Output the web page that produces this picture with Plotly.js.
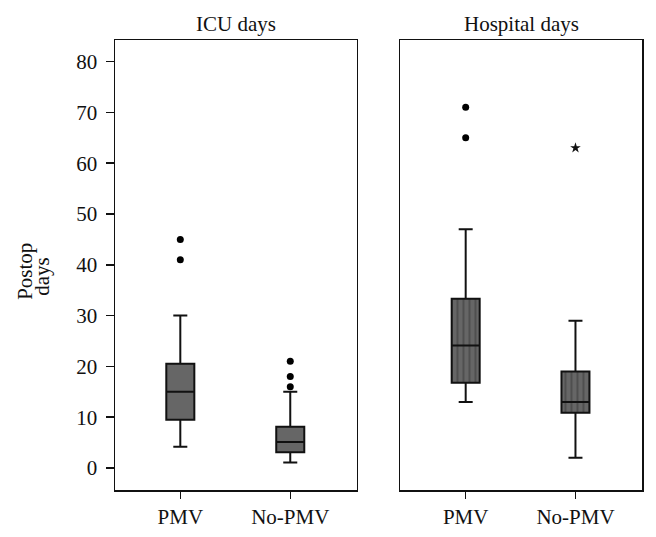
<!DOCTYPE html>
<html>
<head>
<meta charset="utf-8">
<script src="https://cdn.plot.ly/plotly-3.0.1.min.js"></script>
<style>html,body{margin:0;padding:0;background:#fff;}#chart{width:656px;height:537px;}</style>
</head>
<body>
<div id="chart"></div>
<script>
// Categories
const groups = ["PMV", "No-PMV"];
const panelTitles = ["ICU days", "Hospital days"];
const yTitleLines = ["Postop", "days"];
const yTicks = [0, 10, 20, 30, 40, 50, 60, 70, 80];

// ICU days box statistics (PMV, No-PMV)
const icuLower  = [4.2, 1.1];
const icuQ1     = [9.5, 3.1];
const icuMedian = [15, 5.1];
const icuQ3     = [20.5, 8.1];
const icuUpper  = [30, 15];
// ICU outliers
const icuOutX = ["PMV", "PMV", "No-PMV", "No-PMV", "No-PMV"];
const icuOutY = [45, 41, 21, 18, 16];

// Hospital days box statistics (PMV, No-PMV)
const hospLower  = [13, 2];
const hospQ1     = [16.8, 10.9];
const hospMedian = [24.1, 13];
const hospQ3     = [33.3, 19];
const hospUpper  = [47, 29];
// Hospital outliers and extremes
const hospOutX = ["PMV", "PMV"];
const hospOutY = [71, 65];
const hospExtX = ["No-PMV"];
const hospExtY = [63];

const lineCol = "#111111";
const fillCol = "#666666";
const boxW = 0.255;

function boxTrace(q1, med, q3, lo, hi, xa, ya, fill) {
  return {
    type: "box", x: groups, q1: q1, median: med, q3: q3,
    lowerfence: lo, upperfence: hi,
    width: boxW, whiskerwidth: 0.5,
    fillcolor: fill, line: {color: lineCol, width: 2},
    boxpoints: false, xaxis: xa, yaxis: ya, hoverinfo: "skip", showlegend: false
  };
}

const hospSpan = hospQ3.map((v, i) => v - hospQ1[i]);

const traces = [
  boxTrace(icuQ1, icuMedian, icuQ3, icuLower, icuUpper, "x", "y", fillCol),
  {
    type: "bar", x: groups, y: hospSpan, base: hospQ1, width: boxW,
    marker: {color: fillCol, line: {width: 0},
      pattern: {shape: "|", fgcolor: "#333333", bgcolor: fillCol, size: 6, solidity: 0.15}},
    xaxis: "x2", yaxis: "y2", hoverinfo: "skip", showlegend: false
  },
  boxTrace(hospQ1, hospMedian, hospQ3, hospLower, hospUpper, "x2", "y2", "rgba(0,0,0,0)"),
  {
    type: "scatter", mode: "markers", x: icuOutX, y: icuOutY,
    marker: {symbol: "circle", size: 7, color: "#000"},
    xaxis: "x", yaxis: "y", hoverinfo: "skip", showlegend: false
  },
  {
    type: "scatter", mode: "markers", x: hospOutX, y: hospOutY,
    marker: {symbol: "circle", size: 7, color: "#000"},
    xaxis: "x2", yaxis: "y2", hoverinfo: "skip", showlegend: false
  },
  {
    type: "scatter", mode: "markers", x: hospExtX, y: hospExtY,
    marker: {symbol: "star", size: 8, color: "#111"},
    xaxis: "x2", yaxis: "y2", hoverinfo: "skip", showlegend: false
  }
];

const fam = "Liberation Serif, DejaVu Serif, serif";
const font = {family: fam, size: 21, color: "#111"};
const xCommon = {
  type: "category", categoryorder: "array", categoryarray: groups,
  range: [-0.594, 1.606], showline: true, mirror: true, linecolor: lineCol, linewidth: 1.5,
  ticks: "outside", ticklen: 7, tickwidth: 1.5, tickcolor: lineCol,
  showgrid: false, zeroline: false, fixedrange: true, tickfont: font
};
const yRange = [-4.33, 84.25];

const layout = {
  width: 656, height: 537,
  margin: {l: 115, r: 14, t: 40, b: 47},
  paper_bgcolor: "#fff", plot_bgcolor: "#fff",
  font: font, showlegend: false,
  boxmode: "overlay", barmode: "overlay",
  xaxis: Object.assign({}, xCommon, {domain: [0, 0.459], anchor: "y"}),
  xaxis2: Object.assign({}, xCommon, {domain: [0.5417, 1], anchor: "y2"}),
  yaxis: {
    range: yRange, tickvals: yTicks, ticktext: yTicks.map(String),
    showline: true, mirror: true, linecolor: lineCol, linewidth: 1.5,
    ticks: "outside", ticklen: 8, tickwidth: 1.5, tickcolor: lineCol,
    ticklabelstandoff: 4,
    showgrid: false, zeroline: false, tickfont: font, anchor: "x"
  },
  yaxis2: {
    range: yRange, showticklabels: false, ticks: "",
    showline: true, mirror: true, linecolor: lineCol, linewidth: 1.5,
    showgrid: false, zeroline: false, anchor: "x2"
  },
  annotations: [
    {text: panelTitles[0], xref: "x domain", yref: "paper", x: 0.5, y: 1, yshift: 2,
     showarrow: false, font: {family: fam, size: 21, color: "#111"}, yanchor: "bottom"},
    {text: panelTitles[1], xref: "x2 domain", yref: "paper", x: 0.5, y: 1, yshift: 2,
     showarrow: false, font: {family: fam, size: 21, color: "#111"}, yanchor: "bottom"},
    {text: yTitleLines[0], xref: "paper", yref: "paper", x: -0.1708, y: 0.487, textangle: -90,
     showarrow: false, font: {family: fam, size: 21, color: "#111"}, xanchor: "center", yanchor: "middle"},
    {text: yTitleLines[1], xref: "paper", yref: "paper", x: -0.1385, y: 0.474, textangle: -90,
     showarrow: false, font: {family: fam, size: 21, color: "#111"}, xanchor: "center", yanchor: "middle"}
  ]
};

Plotly.newPlot("chart", traces, layout, {staticPlot: true, displayModeBar: false});
</script>
</body>
</html>
